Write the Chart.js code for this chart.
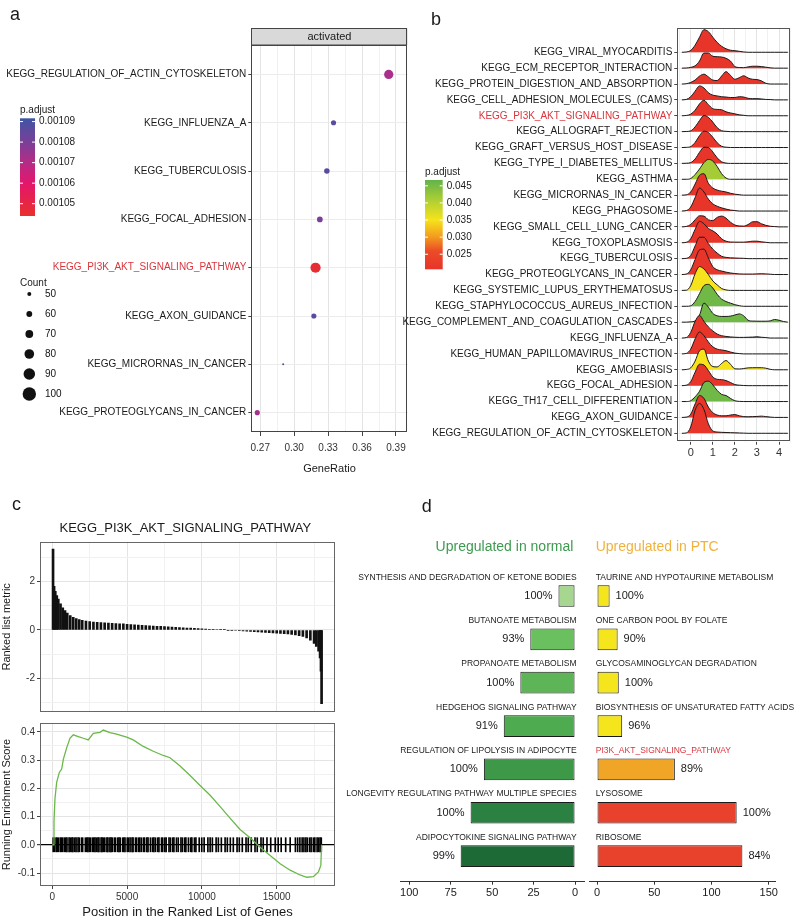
<!DOCTYPE html>
<html>
<head>
<meta charset="utf-8">
<title>KEGG enrichment figure</title>
<script src="https://cdn.jsdelivr.net/npm/chart.js@4.4.1/dist/chart.umd.min.js"></script>
<style>
  html, body { margin: 0; padding: 0; background: #fff; }
  #page { position: relative; width: 800px; height: 920px; overflow: hidden; background: #fff; }
  canvas { position: absolute; }
</style>
</head>
<body>
<div id="page">
  <canvas id="dotPlot" width="412" height="480" style="left:0px;top:0px"></canvas>
  <canvas id="ridgePlot" width="400" height="470" style="left:400px;top:0px"></canvas>
  <canvas id="rankPlot" width="400" height="240" style="left:0px;top:480px"></canvas>
  <canvas id="esPlot" width="400" height="205" style="left:0px;top:715px"></canvas>
  <canvas id="normalPlot" width="262" height="430" style="left:330px;top:490px"></canvas>
  <canvas id="ptcPlot" width="215" height="430" style="left:585px;top:490px"></canvas>
</div>
<script>
// ---------- panel a : dot plot ----------
const dotTerms = ['KEGG_PROTEOGLYCANS_IN_CANCER', 'KEGG_MICRORNAS_IN_CANCER', 'KEGG_AXON_GUIDANCE',
  'KEGG_PI3K_AKT_SIGNALING_PATHWAY', 'KEGG_FOCAL_ADHESION', 'KEGG_TUBERCULOSIS', 'KEGG_INFLUENZA_A',
  'KEGG_REGULATION_OF_ACTIN_CYTOSKELETON'];
const dotGeneRatio = [0.2674, 0.2903, 0.3174, 0.3189, 0.3227, 0.3289, 0.3348, 0.3836];
const dotCount = [56, 39, 56, 83, 59, 58, 56, 78];
const dotPadj = [0.001073, 0.001085, 0.001086, 0.001046, 0.00108, 0.001086, 0.001086, 0.001072];
const ratioTicks = [0.27, 0.285, 0.30, 0.315, 0.33, 0.345, 0.36, 0.375, 0.39];
const ratioLabels = [0.27, 0.30, 0.33, 0.36, 0.39];
const padjTicksA = [0.00105, 0.00106, 0.00107, 0.00108, 0.00109];
const countBreaks = [50, 60, 70, 80, 90, 100];

// ---------- panel b : ridge plot ----------
const ridgeTerms = ['KEGG_REGULATION_OF_ACTIN_CYTOSKELETON', 'KEGG_AXON_GUIDANCE', 'KEGG_TH17_CELL_DIFFERENTIATION',
  'KEGG_FOCAL_ADHESION', 'KEGG_AMOEBIASIS', 'KEGG_HUMAN_PAPILLOMAVIRUS_INFECTION', 'KEGG_INFLUENZA_A',
  'KEGG_COMPLEMENT_AND_COAGULATION_CASCADES', 'KEGG_STAPHYLOCOCCUS_AUREUS_INFECTION',
  'KEGG_SYSTEMIC_LUPUS_ERYTHEMATOSUS', 'KEGG_PROTEOGLYCANS_IN_CANCER', 'KEGG_TUBERCULOSIS',
  'KEGG_TOXOPLASMOSIS', 'KEGG_SMALL_CELL_LUNG_CANCER', 'KEGG_PHAGOSOME', 'KEGG_MICRORNAS_IN_CANCER',
  'KEGG_ASTHMA', 'KEGG_TYPE_I_DIABETES_MELLITUS', 'KEGG_GRAFT_VERSUS_HOST_DISEASE', 'KEGG_ALLOGRAFT_REJECTION',
  'KEGG_PI3K_AKT_SIGNALING_PATHWAY', 'KEGG_CELL_ADHESION_MOLECULES_(CAMS)', 'KEGG_PROTEIN_DIGESTION_AND_ABSORPTION',
  'KEGG_ECM_RECEPTOR_INTERACTION', 'KEGG_VIRAL_MYOCARDITIS'];
const ridgePadj = [0.021, 0.021, 0.0455, 0.021, 0.035, 0.021, 0.021, 0.0455, 0.0455, 0.035, 0.021, 0.021,
  0.021, 0.021, 0.021, 0.021, 0.0415, 0.021, 0.021, 0.021, 0.021, 0.021, 0.021, 0.021, 0.021];
const ridgeX = [-0.4, -0.2, 0, 0.2, 0.4, 0.6, 0.8, 1.0, 1.2, 1.4, 1.6, 1.8, 2.0, 2.2, 2.4, 2.6, 2.8, 3.0, 3.2, 3.4, 3.6, 3.8, 4.0, 4.2, 4.4];
// ridge heights (in row units) at ridgeX, bottom row first
const ridgeHeights = [
  [0, 0.02, 0.4, 1.45, 1.88, 1.5, 0.6, 0.15, 0.08, 0.06, 0.05, 0.04, 0.03, 0.02, 0.01, 0, 0, 0, 0, 0, 0, 0, 0, 0, 0],
  [0, 0.02, 0.2, 0.85, 1.38, 1.2, 0.65, 0.3, 0.15, 0.1, 0.1, 0.15, 0.18, 0.1, 0.05, 0.04, 0.05, 0.06, 0.08, 0.05, 0.02, 0, 0, 0, 0],
  [0, 0, 0.05, 0.3, 0.65, 1.2, 1.28, 1.05, 0.7, 0.45, 0.38, 0.2, 0.05, 0.01, 0, 0, 0, 0, 0, 0, 0, 0, 0, 0, 0],
  [0, 0.03, 0.25, 0.85, 1.35, 1.3, 0.95, 0.55, 0.4, 0.38, 0.32, 0.2, 0.07, 0.03, 0.01, 0, 0, 0, 0, 0, 0, 0, 0, 0, 0],
  [0, 0.02, 0.12, 0.55, 1.2, 1.3, 0.55, 0.2, 0.18, 0.4, 0.58, 0.35, 0.06, 0.05, 0.08, 0.12, 0.13, 0.13, 0.13, 0.1, 0.03, 0, 0, 0, 0],
  [0, 0.03, 0.3, 0.95, 1.38, 1.15, 0.75, 0.45, 0.3, 0.25, 0.2, 0.12, 0.05, 0.02, 0, 0, 0, 0, 0, 0, 0, 0, 0, 0, 0],
  [0, 0.03, 0.35, 1.05, 1.42, 1.05, 0.7, 0.45, 0.25, 0.15, 0.1, 0.07, 0.05, 0.04, 0.04, 0.05, 0.06, 0.08, 0.05, 0.03, 0, 0, 0, 0, 0],
  [0, 0, 0.02, 0.08, 0.45, 1.2, 0.95, 0.55, 0.4, 0.36, 0.36, 0.38, 0.45, 0.52, 0.4, 0.12, 0.07, 0.06, 0.06, 0.06, 0.08, 0.17, 0.12, 0.04, 0],
  [0, 0, 0.03, 0.3, 0.8, 1.3, 1.38, 1.15, 0.75, 0.45, 0.3, 0.2, 0.1, 0.04, 0, 0, 0, 0, 0, 0, 0, 0, 0, 0, 0],
  [0, 0.01, 0.3, 1.05, 1.5, 1.35, 1.0, 0.6, 0.35, 0.12, 0.03, 0, 0, 0, 0, 0, 0, 0, 0, 0, 0, 0, 0, 0, 0],
  [0, 0.03, 0.3, 0.95, 1.55, 1.6, 1.05, 0.5, 0.3, 0.22, 0.15, 0.1, 0.06, 0.04, 0.03, 0.03, 0.03, 0.04, 0.05, 0.04, 0.02, 0, 0, 0, 0],
  [0, 0.02, 0.2, 0.8, 1.35, 1.35, 0.95, 0.6, 0.35, 0.15, 0.08, 0.05, 0.04, 0.03, 0.02, 0, 0, 0, 0, 0, 0, 0, 0, 0, 0],
  [0, 0.03, 0.25, 0.85, 1.35, 1.2, 0.9, 0.75, 0.55, 0.25, 0.1, 0.05, 0.04, 0.04, 0.04, 0.06, 0.1, 0.1, 0.06, 0.03, 0, 0, 0, 0, 0],
  [0, 0.03, 0.15, 0.45, 0.7, 0.68, 0.45, 0.4, 0.6, 0.68, 0.55, 0.3, 0.12, 0.06, 0.05, 0.15, 0.32, 0.33, 0.2, 0.1, 0.04, 0.02, 0, 0, 0],
  [0, 0.03, 0.25, 0.85, 1.45, 1.2, 0.75, 0.45, 0.3, 0.2, 0.12, 0.06, 0.03, 0, 0, 0, 0, 0, 0, 0, 0, 0, 0, 0, 0],
  [0, 0.02, 0.2, 0.7, 1.25, 1.35, 0.75, 0.45, 0.32, 0.25, 0.2, 0.12, 0.06, 0.03, 0, 0, 0, 0, 0, 0, 0, 0, 0, 0, 0],
  [0, 0, 0.05, 0.3, 0.65, 1.05, 1.25, 1.15, 0.8, 0.35, 0.08, 0, 0, 0, 0, 0, 0, 0, 0, 0, 0, 0, 0, 0, 0],
  [0, 0.01, 0.05, 0.28, 0.7, 1.02, 1.0, 0.72, 0.35, 0.1, 0.02, 0, 0, 0, 0, 0, 0, 0, 0, 0, 0, 0, 0, 0, 0],
  [0, 0.01, 0.06, 0.32, 0.75, 1.03, 0.95, 0.65, 0.3, 0.08, 0.02, 0, 0, 0, 0, 0, 0, 0, 0, 0, 0, 0, 0, 0, 0],
  [0, 0.01, 0.05, 0.3, 0.7, 1.02, 0.9, 0.6, 0.25, 0.06, 0.02, 0, 0, 0, 0, 0, 0, 0, 0, 0, 0, 0, 0, 0, 0],
  [0, 0.02, 0.1, 0.35, 0.75, 0.98, 0.7, 0.45, 0.4, 0.38, 0.25, 0.18, 0.12, 0.06, 0.03, 0, 0, 0, 0, 0, 0, 0, 0, 0, 0],
  [0, 0.03, 0.2, 0.55, 0.88, 0.75, 0.45, 0.3, 0.25, 0.2, 0.18, 0.15, 0.15, 0.2, 0.18, 0.1, 0.08, 0.08, 0.06, 0.03, 0.02, 0, 0, 0, 0],
  [0, 0.02, 0.1, 0.25, 0.5, 0.62, 0.45, 0.25, 0.22, 0.5, 0.78, 0.55, 0.3, 0.4, 0.52, 0.38, 0.3, 0.28, 0.2, 0.05, 0, 0, 0, 0, 0],
  [0, 0.01, 0.05, 0.15, 0.45, 0.95, 0.95, 0.75, 0.72, 0.7, 0.62, 0.45, 0.1, 0.04, 0.03, 0.08, 0.12, 0.12, 0.1, 0.06, 0.02, 0, 0, 0, 0],
  [0, 0.02, 0.12, 0.45, 0.95, 1.42, 1.3, 0.95, 0.62, 0.38, 0.22, 0.13, 0.1, 0.06, 0.02, 0, 0, 0, 0, 0, 0, 0, 0, 0, 0]
];
const ridgeGridX = [-0.5, 0, 0.5, 1, 1.5, 2, 2.5, 3, 3.5, 4, 4.5];
const padjTicksB = [0.025, 0.030, 0.035, 0.040, 0.045];

// ---------- panel c : GSEA plot ----------
const gseaTitle = 'KEGG_PI3K_AKT_SIGNALING_PATHWAY';
const rankPos = [50, 120, 200, 300, 400, 550, 700, 850, 1000, 1200,
  1400, 1600, 1800, 2000, 2250, 2500, 2750, 3000, 3250, 3500,
  3750, 4000, 4250, 4500, 4750, 5000, 5250, 5500, 5750, 6000,
  6250, 6500, 6750, 7000, 7250, 7500, 7750, 8000, 8250, 8500,
  8750, 9000, 9250, 9500, 9750, 10000, 10250, 10500, 10750, 11000,
  11250, 11500, 11750, 12000, 12250, 12500, 12750, 13000, 13250, 13500,
  13750, 14000, 14250, 14500, 14750, 15000, 15250, 15500, 15750, 16000,
  16250, 16500, 16750, 17000, 17250, 17500, 17650, 17800, 17900, 17960,
  18000];
const rankMetric = [3.35, 1.8, 1.6, 1.42, 1.28, 1.08, 0.92, 0.8, 0.7, 0.6,
  0.52, 0.47, 0.43, 0.4, 0.37, 0.35, 0.33, 0.32, 0.31, 0.3,
  0.29, 0.28, 0.27, 0.26, 0.25, 0.23, 0.22, 0.21, 0.2, 0.19,
  0.18, 0.17, 0.16, 0.15, 0.15, 0.14, 0.13, 0.12, 0.11, 0.1,
  0.09, 0.08, 0.08, 0.07, 0.06, 0.05, 0.04, 0.03, 0.03, 0.02,
  0.01, 0.01, -0.01, -0.01, -0.02, -0.03, -0.04, -0.05, -0.06, -0.07,
  -0.08, -0.09, -0.1, -0.11, -0.12, -0.13, -0.14, -0.15, -0.16, -0.18,
  -0.2, -0.23, -0.27, -0.33, -0.42, -0.55, -0.68, -0.88, -1.15, -1.7,
  -3.05];
const esPos = [0, 69, 113, 180, 292, 470, 626, 737, 960, 1180, 1400, 1740, 2070, 2405, 2740, 3190, 3410,
  3850, 4300, 4970, 5410, 6080, 6750, 7420, 7870, 8540, 9210, 9880, 10550, 11220, 11880, 12550,
  13220, 13890, 14560, 15230, 15900, 16560, 17010, 17450, 17790, 17950, 18000];
const esScore = [0, 0, 0.083, 0.164, 0.221, 0.256, 0.268, 0.302, 0.343, 0.377, 0.389, 0.383, 0.377, 0.371,
  0.394, 0.398, 0.406, 0.397, 0.392, 0.381, 0.371, 0.348, 0.331, 0.316, 0.308, 0.279, 0.245, 0.21,
  0.175, 0.135, 0.094, 0.054, 0.025, -0.009, -0.038, -0.067, -0.09, -0.107, -0.115, -0.113, -0.096,
  -0.073, 0];
const hitPos = [60, 150, 260, 330, 420, 540, 610, 700, 820, 900, 980, 1120, 1200, 1310, 1380, 1500, 1590,
  1720, 1800, 1950, 2030, 2210, 2300, 2380, 2470, 2560, 2690, 2760, 2850, 2940, 3050, 3120, 3260, 3330,
  3420, 3510, 3650, 3720, 3850, 3930, 4010, 4150, 4230, 4380, 4460, 4540, 4700, 4780, 4860, 5010, 5090,
  5200, 5330, 5400, 5560, 5640, 5780, 5850, 5960, 6100, 6170, 6320, 6400, 6560, 6700, 6790, 6900, 7050,
  7130, 7300, 7380, 7520, 7610, 7800, 7900, 8050, 8130, 8300, 8420, 8600, 8700, 8850, 8930, 9100, 9250,
  9330, 9500, 9600, 9820, 9990, 10150, 10400, 10550, 10700, 10950, 11100, 11300, 11550, 11700, 11900,
  12100, 12350, 12500, 12700, 12950, 13100, 13300, 13550, 13700, 13950, 14100, 14350, 14600, 14900,
  15100, 15300, 15600, 15900, 16250, 16400, 16550, 16700, 16820, 16950, 17050, 17200, 17300, 17450,
  17550, 17700, 17800, 17900, 17980];
const posTicks = [0, 2500, 5000, 7500, 10000, 12500, 15000, 17500];
const posLabels = [0, 5000, 10000, 15000];
const metricTicks = [-3, -2, -1, 0, 1, 2, 3];
const metricLabels = [-2, 0, 2];
const esTicks = [-0.1, -0.05, 0, 0.05, 0.1, 0.15, 0.2, 0.25, 0.3, 0.35, 0.4];
const esLabels = [-0.1, 0, 0.1, 0.2, 0.3, 0.4];

// ---------- panel d : bar charts ----------
const normalTerms = ['SYNTHESIS AND DEGRADATION OF KETONE BODIES', 'BUTANOATE METABOLISM', 'PROPANOATE METABOLISM',
  'HEDGEHOG SIGNALING PATHWAY', 'REGULATION OF LIPOLYSIS IN ADIPOCYTE',
  'LONGEVITY REGULATING PATHWAY MULTIPLE SPECIES', 'ADIPOCYTOKINE SIGNALING PATHWAY'];
const normalCounts = [10, 27, 33, 43, 55, 63, 69];
const normalPct = [100, 93, 100, 91, 100, 100, 99];
const ptcTerms = ['TAURINE AND HYPOTAURINE METABOLISM', 'ONE CARBON POOL BY FOLATE', 'GLYCOSAMINOGLYCAN DEGRADATION',
  'BIOSYNTHESIS OF UNSATURATED FATTY ACIDS', 'PI3K_AKT_SIGNALING_PATHWAY', 'LYSOSOME', 'RIBOSOME'];
const ptcCounts = [11, 18, 19, 22, 68, 122, 127];
const ptcPct = [100, 90, 100, 96, 89, 100, 84];
const normalTicks = [0, 25, 50, 75, 100];
const ptcTicks = [0, 50, 100, 150];

// ---------- styles ----------
const FONT = '"Liberation Sans", Arial, Helvetica, sans-serif';
const INK = '#1a1a1a';
const HIGHLIGHT = '#d9363e';
const padjStopsA = [[0.001044, '#e8302c'], [0.00106, '#e3166c'], [0.00107, '#b52c86'], [0.00108, '#7a3f98'], [0.0010916, '#3f55a4']];
const padjStopsB = [[0.0206, '#e8332a'], [0.026, '#eb4c27'], [0.030, '#f39a1e'], [0.035, '#f6e31b'], [0.040, '#b8d230'], [0.0467, '#62b34b']];
const normalColors = ['#a6d68f', '#6abf5e', '#5db558', '#4fab4f', '#3d9848', '#2b8141', '#1d6a36'];
const ptcColors = ['#f5e51c', '#f5e51c', '#f5e51c', '#f5e51c', '#f0a526', '#e8412c', '#e8412c'];

Chart.defaults.font.family = FONT;
Chart.defaults.color = INK;
Chart.defaults.animation = false;
Chart.defaults.events = [];
Chart.defaults.responsive = false;
Chart.defaults.maintainAspectRatio = false;
Chart.defaults.plugins.legend.display = false;
Chart.defaults.plugins.tooltip.enabled = false;

function hexToRgb(h) {
  const n = parseInt(h.slice(1), 16);
  return [(n >> 16) & 255, (n >> 8) & 255, n & 255];
}
function gradColor(stops, v) {
  if (v <= stops[0][0]) return stops[0][1];
  for (let i = 1; i < stops.length; i++) {
    if (v <= stops[i][0]) {
      const t = (v - stops[i - 1][0]) / (stops[i][0] - stops[i - 1][0]);
      const a = hexToRgb(stops[i - 1][1]), b = hexToRgb(stops[i][1]);
      return 'rgb(' + a.map((x, k) => Math.round(x + (b[k] - x) * t)).join(',') + ')';
    }
  }
  return stops[stops.length - 1][1];
}
const fixedTicks = values => scale => { scale.ticks = values.map(v => ({ value: v })); };
const inList = (list, v) => list.some(x => Math.abs(x - v) < 1e-9);
const tickVal = c => (c.tick ? c.tick.value : NaN);
const countRadius = c => Math.max(1, 2 + (c - 50) * 0.094);

function drawLetter(ctx, s, x, y) {
  ctx.font = '18px ' + FONT;
  ctx.fillStyle = INK;
  ctx.textAlign = 'left';
  ctx.textBaseline = 'alphabetic';
  ctx.fillText(s, x, y);
}
function drawBorder(ctx, a, color) {
  ctx.strokeStyle = color || '#444';
  ctx.lineWidth = 1;
  ctx.strokeRect(Math.round(a.left) + 0.5, Math.round(a.top) + 0.5, Math.round(a.right - a.left) - 1, Math.round(a.bottom - a.top) - 1);
}
function drawColorBar(ctx, stops, box, ticks, fmt, title) {
  const lo = stops[0][0], hi = stops[stops.length - 1][0];
  const g = ctx.createLinearGradient(0, box.bottom, 0, box.top);
  stops.forEach(([v, c]) => g.addColorStop((v - lo) / (hi - lo), c));
  ctx.fillStyle = g;
  ctx.fillRect(box.x, box.top, box.w, box.bottom - box.top);
  ctx.font = '10px ' + FONT;
  ctx.textBaseline = 'middle';
  ctx.textAlign = 'left';
  ctx.fillStyle = INK;
  ctx.fillText(title, box.x, box.top - 8);
  ticks.forEach(v => {
    const y = box.bottom - (v - lo) / (hi - lo) * (box.bottom - box.top);
    ctx.strokeStyle = '#fff';
    ctx.lineWidth = 1;
    ctx.beginPath();
    ctx.moveTo(box.x, y); ctx.lineTo(box.x + 3, y);
    ctx.moveTo(box.x + box.w - 3, y); ctx.lineTo(box.x + box.w, y);
    ctx.stroke();
    ctx.fillStyle = INK;
    ctx.fillText(fmt(v), box.x + box.w + 4, y);
  });
}

// ---------- chart a ----------
const dotDecor = {
  id: 'dotDecor',
  afterDraw(chart) {
    const { ctx, chartArea: a } = chart;
    ctx.save();
    drawBorder(ctx, a, '#444');
    // facet strip
    ctx.fillStyle = '#d9d9d9';
    ctx.fillRect(a.left, 28.3, a.right - a.left, a.top - 28.3);
    ctx.strokeStyle = '#444';
    ctx.strokeRect(Math.round(a.left) + 0.5, 28.5, Math.round(a.right - a.left) - 1, a.top - 28.5);
    ctx.fillStyle = INK;
    ctx.font = '11px ' + FONT;
    ctx.textAlign = 'center';
    ctx.textBaseline = 'middle';
    ctx.fillText('activated', (a.left + a.right) / 2, 37);
    drawLetter(ctx, 'a', 10, 19.5);
    drawColorBar(ctx, padjStopsA, { x: 20, w: 15, top: 118.3, bottom: 216 }, padjTicksA, v => v.toFixed(5), 'p.adjust');
    // size legend
    ctx.font = '10px ' + FONT;
    ctx.textAlign = 'left';
    ctx.textBaseline = 'middle';
    ctx.fillStyle = INK;
    ctx.fillText('Count', 20, 283.5);
    countBreaks.forEach((c, i) => {
      const y = 294 + i * 20;
      ctx.beginPath();
      ctx.arc(29.3, y, countRadius(c), 0, Math.PI * 2);
      ctx.fillStyle = '#111';
      ctx.fill();
      ctx.fillText(String(c), 45, y);
    });
    ctx.restore();
  }
};

new Chart(document.getElementById('dotPlot'), {
  type: 'bubble',
  data: {
    datasets: [{
      data: dotTerms.map((t, i) => ({ x: dotGeneRatio[i], y: i, r: countRadius(dotCount[i]) })),
      backgroundColor: dotPadj.map(p => gradColor(padjStopsA, p)),
      borderWidth: 0
    }]
  },
  options: {
    layout: { padding: { left: 0, right: 4, top: 45, bottom: 0 }, autoPadding: false },
    scales: {
      x: {
        type: 'linear', min: 0.2621, max: 0.4003,
        afterBuildTicks: fixedTicks(ratioTicks),
        afterFit: s => { s.height = 48; },
        border: { display: false },
        grid: {
          color: c => inList(ratioLabels, tickVal(c)) ? '#e4e4e4' : '#f1f1f1',
          tickColor: c => inList(ratioLabels, tickVal(c)) ? '#444' : 'rgba(0,0,0,0)',
          tickLength: 4
        },
        ticks: {
          autoSkip: false, maxRotation: 0, padding: 6, font: { size: 10 }, color: '#333',
          callback: v => inList(ratioLabels, v) ? v.toFixed(2) : ''
        },
        title: { display: true, text: 'GeneRatio', font: { size: 11 }, color: INK, padding: { top: 0, bottom: 4 } }
      },
      y: {
        type: 'linear', min: -0.4, max: 7.61,
        afterBuildTicks: fixedTicks(dotTerms.map((t, i) => i)),
        afterFit: s => { s.width = 251.3; },
        border: { display: false },
        grid: { color: '#ececec', tickColor: '#444', tickLength: 3 },
        ticks: {
          autoSkip: false, padding: 2, font: { size: 10 },
          color: c => dotTerms[tickVal(c)] === 'KEGG_PI3K_AKT_SIGNALING_PATHWAY' ? HIGHLIGHT : INK,
          callback: v => dotTerms[v]
        }
      }
    }
  },
  plugins: [dotDecor]
});

// ---------- chart b ----------
const ridgeDecor = {
  id: 'ridgeDecor',
  afterDraw(chart) {
    const { ctx, chartArea: a } = chart;
    ctx.save();
    drawBorder(ctx, a, '#555');
    drawLetter(ctx, 'b', 31, 25);
    drawColorBar(ctx, padjStopsB, { x: 25, w: 17.7, top: 180, bottom: 269.3 }, padjTicksB, v => v.toFixed(3), 'p.adjust');
    ctx.restore();
  }
};

new Chart(document.getElementById('ridgePlot'), {
  type: 'line',
  data: {
    datasets: ridgeTerms.map((t, i) => ({
      data: ridgeX.map((x, k) => ({ x: x, y: i + ridgeHeights[i][k] })),
      fill: { value: i },
      backgroundColor: gradColor(padjStopsB, ridgePadj[i]),
      borderColor: INK,
      borderWidth: 1,
      pointRadius: 0,
      cubicInterpolationMode: 'monotone'
    }))
  },
  options: {
    layout: { padding: { left: 0, right: 9.3, top: 28.3, bottom: 0 }, autoPadding: false },
    scales: {
      x: {
        type: 'linear', min: -0.607, max: 4.53,
        afterBuildTicks: fixedTicks(ridgeGridX),
        afterFit: s => { s.height = 28.3; },
        border: { display: false },
        grid: {
          color: c => Number.isInteger(tickVal(c)) ? '#e4e4e4' : '#f1f1f1',
          tickColor: c => Number.isInteger(tickVal(c)) ? '#444' : 'rgba(0,0,0,0)',
          tickLength: 3
        },
        ticks: {
          autoSkip: false, maxRotation: 0, padding: 2, font: { size: 11 }, color: '#333',
          callback: v => Number.isInteger(v) ? String(v) : ''
        }
      },
      y: {
        type: 'linear', min: -0.53, max: 25.51,
        afterBuildTicks: fixedTicks(ridgeTerms.map((t, i) => i)),
        afterFit: s => { s.width = 277.3; },
        border: { display: false },
        grid: { color: '#ededed', tickColor: '#444', tickLength: 3 },
        ticks: {
          autoSkip: false, padding: 2, font: { size: 10 },
          color: c => ridgeTerms[tickVal(c)] === 'KEGG_PI3K_AKT_SIGNALING_PATHWAY' ? HIGHLIGHT : INK,
          callback: v => ridgeTerms[v]
        }
      }
    }
  },
  plugins: [ridgeDecor]
});

// ---------- chart c (top: ranked list metric) ----------
const rankDecor = {
  id: 'rankDecor',
  afterDraw(chart) {
    const { ctx, chartArea: a } = chart;
    ctx.save();
    drawBorder(ctx, a, '#666');
    drawLetter(ctx, 'c', 12, 30);
    ctx.font = '13px ' + FONT;
    ctx.fillStyle = INK;
    ctx.textAlign = 'center';
    ctx.textBaseline = 'middle';
    ctx.fillText(gseaTitle, 185.3, 48.3);
    ctx.restore();
  }
};

new Chart(document.getElementById('rankPlot'), {
  type: 'bar',
  data: {
    datasets: [{
      data: rankPos.map((p, i) => ({ x: p, y: rankMetric[i] })),
      backgroundColor: '#111',
      barThickness: 2
    }]
  },
  options: {
    layout: { padding: { left: 0, right: 65, top: 61.7, bottom: 5 }, autoPadding: false },
    scales: {
      x: {
        type: 'linear', min: -822, max: 18897, offset: false,
        afterBuildTicks: fixedTicks(posTicks),
        afterFit: s => { s.height = 0; },
        border: { display: false },
        grid: { offset: false, color: c => inList(posLabels, tickVal(c)) ? '#e4e4e4' : '#f1f1f1', drawTicks: false },
        ticks: { display: false }
      },
      y: {
        type: 'linear', min: -3.39, max: 3.65,
        afterBuildTicks: fixedTicks(metricTicks),
        afterFit: s => { s.width = 40; },
        border: { display: false },
        grid: {
          color: c => inList(metricLabels, tickVal(c)) ? '#e4e4e4' : '#f1f1f1',
          tickColor: c => inList(metricLabels, tickVal(c)) ? '#444' : 'rgba(0,0,0,0)',
          tickLength: 3
        },
        ticks: {
          autoSkip: false, padding: 2, font: { size: 10 }, color: '#333',
          callback: v => inList(metricLabels, v) ? String(v) : ''
        },
        title: { display: true, text: 'Ranked list metric', font: { size: 11 }, color: INK, padding: 0 }
      }
    }
  },
  plugins: [rankDecor]
});

// ---------- chart c (bottom: running enrichment score) ----------
const esDecor = {
  id: 'esDecor',
  afterDraw(chart) {
    const { ctx, chartArea: a } = chart;
    ctx.save();
    drawBorder(ctx, a, '#666');
    ctx.restore();
  }
};

new Chart(document.getElementById('esPlot'), {
  type: 'bar',
  data: {
    datasets: [
      {
        type: 'line',
        data: esPos.map((p, i) => ({ x: p, y: esScore[i] })),
        borderColor: '#6ab84a',
        borderWidth: 1.3,
        pointRadius: 0,
        tension: 0,
        order: 0
      },
      {
        type: 'bar',
        data: hitPos.map(p => ({ x: p, y: [-0.025, 0.025] })),
        backgroundColor: '#000',
        barThickness: 1,
        order: 1
      }
    ]
  },
  options: {
    layout: { padding: { left: 0, right: 65, top: 4.3, bottom: 0 }, autoPadding: false },
    scales: {
      x: {
        type: 'linear', min: -822, max: 18897, offset: false,
        afterBuildTicks: fixedTicks(posTicks),
        afterFit: s => { s.height = 34; },
        border: { display: false },
        grid: {
          offset: false,
          color: c => inList(posLabels, tickVal(c)) ? '#e4e4e4' : '#f1f1f1',
          tickColor: c => inList(posLabels, tickVal(c)) ? '#444' : 'rgba(0,0,0,0)',
          tickLength: 3
        },
        ticks: {
          autoSkip: false, maxRotation: 0, padding: 2, font: { size: 10 }, color: '#333',
          callback: v => inList(posLabels, v) ? String(v) : ''
        },
        title: { display: true, text: 'Position in the Ranked List of Genes', font: { size: 13 }, color: INK, padding: { top: 0, bottom: 0 } }
      },
      y: {
        type: 'linear', min: -0.146, max: 0.431,
        afterBuildTicks: fixedTicks(esTicks),
        afterFit: s => { s.width = 40; },
        border: { display: false },
        grid: {
          color: c => Math.abs(tickVal(c)) < 1e-9 ? '#000' : (inList(esLabels, tickVal(c)) ? '#e4e4e4' : '#f1f1f1'),
          lineWidth: c => Math.abs(tickVal(c)) < 1e-9 ? 1.2 : 1,
          tickColor: c => inList(esLabels, tickVal(c)) ? '#444' : 'rgba(0,0,0,0)',
          tickLength: 3
        },
        ticks: {
          autoSkip: false, padding: 2, font: { size: 10 }, color: '#333',
          callback: v => inList(esLabels, v) ? v.toFixed(1) : ''
        },
        title: { display: true, text: 'Running Enrichment Score', font: { size: 11 }, color: INK, padding: 0 }
      }
    }
  },
  plugins: [esDecor]
});

// ---------- chart d ----------
// canvases start at page y 490, so the header sits at 57 and the letter at 21.7
function barDecor(side, terms, counts, pcts, header, headerColor) {
  return {
    id: 'barDecor_' + side,
    afterDatasetsDraw(chart) {
      const { ctx } = chart;
      const xs = chart.scales.x, ys = chart.scales.y;
      const x0 = xs.getPixelForValue(0);
      const left = side === 'left';
      ctx.save();
      ctx.textBaseline = 'middle';
      ctx.textAlign = left ? 'right' : 'left';
      terms.forEach((t, i) => {
        const y = ys.getPixelForValue(i);
        const xe = xs.getPixelForValue(counts[i]);
        ctx.font = '8.5px ' + FONT;
        ctx.fillStyle = t === 'PI3K_AKT_SIGNALING_PATHWAY' ? HIGHLIGHT : INK;
        ctx.fillText(t, left ? x0 + 1.5 : x0 - 1.3, y - 18.7);
        ctx.font = '11px ' + FONT;
        ctx.fillStyle = INK;
        ctx.fillText(pcts[i] + '%', left ? xe - 6 : xe + 6, y);
      });
      ctx.font = '14px ' + FONT;
      ctx.fillStyle = headerColor;
      ctx.fillText(header, left ? x0 - 1.7 : x0 - 1.3, 57);
      if (left) drawLetter(ctx, 'd', 91.7, 21.7);
      ctx.restore();
    }
  };
}

function barChart(canvasId, side, terms, counts, pcts, colors, ticks, xmin, xmax, pad, header, headerColor) {
  return new Chart(document.getElementById(canvasId), {
    type: 'bar',
    data: {
      datasets: [{
        data: counts.map((c, i) => ({ x: c, y: i })),
        backgroundColor: colors,
        borderColor: INK,
        borderWidth: 1,
        borderSkipped: false,
        barPercentage: 0.5,
        categoryPercentage: 1
      }]
    },
    options: {
      indexAxis: 'y',
      layout: { padding: pad, autoPadding: false },
      scales: {
        x: {
          type: 'linear', min: xmin, max: xmax, reverse: side === 'left', offset: false,
          afterBuildTicks: fixedTicks(ticks),
          afterFit: s => { s.height = 38.3; },
          border: { display: true, color: '#333', width: 1 },
          grid: { display: true, offset: false, drawOnChartArea: false, drawTicks: true, tickLength: 3, tickColor: '#333' },
          ticks: { autoSkip: false, maxRotation: 0, padding: 2, font: { size: 11 }, color: INK, callback: v => String(v) }
        },
        y: {
          type: 'linear', min: -0.83, max: 6.59, reverse: true, offset: false, display: false,
          afterBuildTicks: fixedTicks(terms.map((t, i) => i)),
          grid: { offset: false }
        }
      }
    },
    plugins: [barDecor(side, terms, counts, pcts, header, headerColor)]
  });
}

barChart('normalPlot', 'left', normalTerms, normalCounts, normalPct, normalColors, normalTicks, -5.4, 105.6,
  { left: 70, right: 8, top: 70, bottom: 0 }, 'Upregulated in normal', '#3d9a50');
barChart('ptcPlot', 'right', ptcTerms, ptcCounts, ptcPct, ptcColors, ptcTicks, -7, 156.1,
  { left: 4, right: 24.3, top: 70, bottom: 0 }, 'Upregulated in PTC', '#f0b23e');
</script>
</body>
</html>
